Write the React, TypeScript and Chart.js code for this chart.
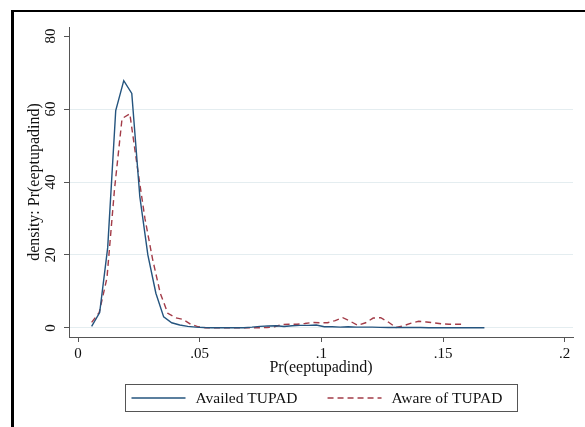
import React, { useEffect, useRef } from "react";
import { Chart, registerables } from "chart.js";

Chart.register(...registerables);

const FONT = "'Liberation Serif', 'Times New Roman', serif";

// Kernel density: Availed TUPAD
const availedX = [
  0.0056, 0.0089, 0.0122, 0.0155, 0.0188, 0.0221, 0.0254, 0.0287, 0.032, 0.0352,
  0.0385, 0.0418, 0.0451, 0.0484, 0.0517, 0.055, 0.0583, 0.0616, 0.0649, 0.0682,
  0.0715, 0.0748, 0.0781, 0.0814, 0.0847, 0.088, 0.0913, 0.0946, 0.0979, 0.1012,
  0.1044, 0.1077, 0.111, 0.1143, 0.1176, 0.1209, 0.1242, 0.1275, 0.1308, 0.1341,
  0.1374, 0.1407, 0.144, 0.1473, 0.1505, 0.1538, 0.1571, 0.1604, 0.1637, 0.167,
];
const availedY = [
  0.4, 4.2, 22, 59.6, 67.8, 64.3, 36, 20, 9.5, 3.0,
  1.4, 0.8, 0.4, 0.2, 0.1, 0.05, 0.03, 0.02, 0.02, 0.05,
  0.2, 0.4, 0.5, 0.6, 0.4, 0.6, 0.7, 0.7, 0.8, 0.3,
  0.3, 0.2, 0.3, 0.2, 0.2, 0.2, 0.15, 0.1, 0.1, 0.1,
  0.1, 0.1, 0.05, 0.05, 0.05, 0.05, 0.03, 0.03, 0.03, 0.02,
];

// Kernel density: Aware of TUPAD
const awareX = [
  0.0056, 0.0087, 0.0119, 0.015, 0.0181, 0.0213, 0.0244, 0.0275, 0.0306, 0.0338,
  0.0369, 0.04, 0.0432, 0.0463, 0.0494, 0.0525, 0.0557, 0.0588, 0.0619, 0.065,
  0.0682, 0.0713, 0.0744, 0.0776, 0.0807, 0.0838, 0.0869, 0.09, 0.0932, 0.0963,
  0.0994, 0.1025, 0.1057, 0.1088, 0.1119, 0.115, 0.1182, 0.1213, 0.1244, 0.1275,
  0.1307, 0.1338, 0.1369, 0.14, 0.1432, 0.1463, 0.1494, 0.1525, 0.1557, 0.1588,
];
const awareY = [
  1.5, 4.2, 13.7, 38, 57.4, 58.7, 44, 30, 19, 9.5,
  4.0, 2.8, 2.3, 1.0, 0.3, 0.05, 0.02, 0.02, 0.02, 0.02,
  0.02, 0.03, 0.05, 0.1, 0.3, 0.9, 1.0, 1.0, 1.2, 1.5,
  1.4, 1.4, 2.0, 2.8, 1.8, 0.7, 1.4, 2.7, 2.8, 1.6,
  0.1, 0.6, 1.3, 1.8, 1.6, 1.4, 1.1, 1.0, 1.0, 1.0,
];

const seriesLabels = ["Availed TUPAD", "Aware of TUPAD"];
const xTickValues = [0, 0.05, 0.1, 0.15, 0.2];
const xTickLabels = ["0", ".05", ".1", ".15", ".2"];
const yTickValues = [0, 20, 40, 60, 80];
const yTickLabels = ["0", "20", "40", "60", "80"];
const xTitle = "Pr(eeptupadind)";
const yTitle = "density: Pr(eeptupadind)";

const legendPlugin = {
  id: "stataLegend",
  afterDraw(chart: any) {
    const { ctx, chartArea } = chart;
    const ds = chart.data.datasets;
    ctx.save();
    ctx.font = `15.5px ${FONT}`;
    const lineLen = 54;
    const gap = 10;
    const itemGap = 30;
    const padL = 6;
    const padR = 15;
    const widths = ds.map((d: any) => ctx.measureText(d.label).width);
    let content = itemGap * (ds.length - 1);
    ds.forEach((d: any, i: number) => {
      content += lineLen + gap + widths[i];
    });
    const boxW = content + padL + padR;
    const cx = (chartArea.left + chartArea.right) / 2;
    const left = Math.round(cx - boxW / 2) + 0.5;
    const top = Math.round(chartArea.bottom + 47) + 0.5;
    const h = 27;
    ctx.strokeStyle = "#555";
    ctx.lineWidth = 1;
    ctx.setLineDash([]);
    ctx.strokeRect(left, top, Math.round(boxW), h);
    const cy = top + h / 2;
    let x = left + padL;
    ds.forEach((d: any, i: number) => {
      ctx.beginPath();
      ctx.strokeStyle = d.borderColor;
      ctx.lineWidth = d.borderWidth;
      ctx.setLineDash(d.borderDash || []);
      ctx.moveTo(x, cy);
      ctx.lineTo(x + lineLen, cy);
      ctx.stroke();
      ctx.setLineDash([]);
      x += lineLen + gap;
      ctx.fillStyle = "#111";
      ctx.textBaseline = "middle";
      ctx.textAlign = "left";
      ctx.fillText(d.label, x, cy + 1);
      x += widths[i] + itemGap;
    });
    ctx.restore();
  },
};

export default function App() {
  const canvasRef = useRef<HTMLCanvasElement | null>(null);

  useEffect(() => {
    if (!canvasRef.current) return;
    const chart = new Chart(canvasRef.current, {
      type: "line",
      data: {
        datasets: [
          {
            label: seriesLabels[0],
            data: availedX.map((x, i) => ({ x, y: availedY[i] })),
            borderColor: "#24547e",
            borderWidth: 1.4,
            pointRadius: 0,
            tension: 0,
            fill: false,
          },
          {
            label: seriesLabels[1],
            data: awareX.map((x, i) => ({ x, y: awareY[i] })),
            borderColor: "#a33c48",
            borderWidth: 1.4,
            borderDash: [6, 4],
            pointRadius: 0,
            tension: 0,
            fill: false,
          },
        ],
      },
      options: {
        animation: false,
        responsive: true,
        maintainAspectRatio: false,
        layout: { padding: { top: 27, right: 12, bottom: 50, left: 0 } },
        plugins: {
          legend: { display: false },
          tooltip: { enabled: false },
        },
        scales: {
          x: {
            type: "linear",
            min: -0.0037,
            max: 0.2034,
            afterBuildTicks: (scale: any) => {
              scale.ticks = xTickValues.map((v) => ({ value: v }));
            },
            afterFit: (scale: any) => {
              scale.height = 40;
            },
            ticks: {
              autoSkip: false,
              maxRotation: 0,
              minRotation: 0,
              padding: 3,
              color: "#111",
              font: { family: FONT, size: 15 },
              callback: (_v: any, i: number) => xTickLabels[i],
            },
            grid: {
              drawOnChartArea: false,
              drawTicks: true,
              tickLength: 5,
              tickColor: "#555",
            },
            border: { display: true, color: "#555", width: 1 },
            title: {
              display: true,
              text: xTitle,
              color: "#111",
              font: { family: FONT, size: 16 },
              padding: { top: 0, bottom: 0 },
            },
          },
          y: {
            type: "linear",
            min: -2.5,
            max: 82.5,
            afterBuildTicks: (scale: any) => {
              scale.ticks = yTickValues.map((v) => ({ value: v }));
            },
            afterFit: (scale: any) => {
              scale.width = 69;
            },
            ticks: {
              autoSkip: false,
              minRotation: 90,
              maxRotation: 90,
              crossAlign: "center",
              padding: 5.5,
              color: "#111",
              font: { family: FONT, size: 15 },
              callback: (_v: any, i: number) => yTickLabels[i],
            },
            grid: {
              drawOnChartArea: true,
              drawTicks: true,
              tickLength: 5,
              tickColor: "#555",
              lineWidth: 1,
              color: (ctx: any) =>
                ctx.tick && ctx.tick.value === 80 ? "rgba(0,0,0,0)" : "#e4edf0",
            },
            border: { display: true, color: "#555", width: 1 },
            title: {
              display: true,
              text: yTitle,
              color: "#111",
              font: { family: FONT, size: 16 },
              padding: { top: 25, bottom: 0 },
            },
          },
        },
      },
      plugins: [legendPlugin],
    } as any);
    return () => chart.destroy();
  }, []);

  return (
    <div
      style={{
        position: "fixed",
        left: 0,
        top: 0,
        width: 585,
        height: 427,
        overflow: "hidden",
        background: "#fff",
      }}
    >
      <div
        style={{
          position: "absolute",
          left: 11,
          top: 10,
          width: 700,
          height: 600,
          borderLeft: "3px solid #000",
          borderTop: "2px solid #000",
        }}
      />
      <div style={{ position: "absolute", left: 0, top: 0, width: 585, height: 427 }}>
        <canvas ref={canvasRef} />
      </div>
    </div>
  );
}
